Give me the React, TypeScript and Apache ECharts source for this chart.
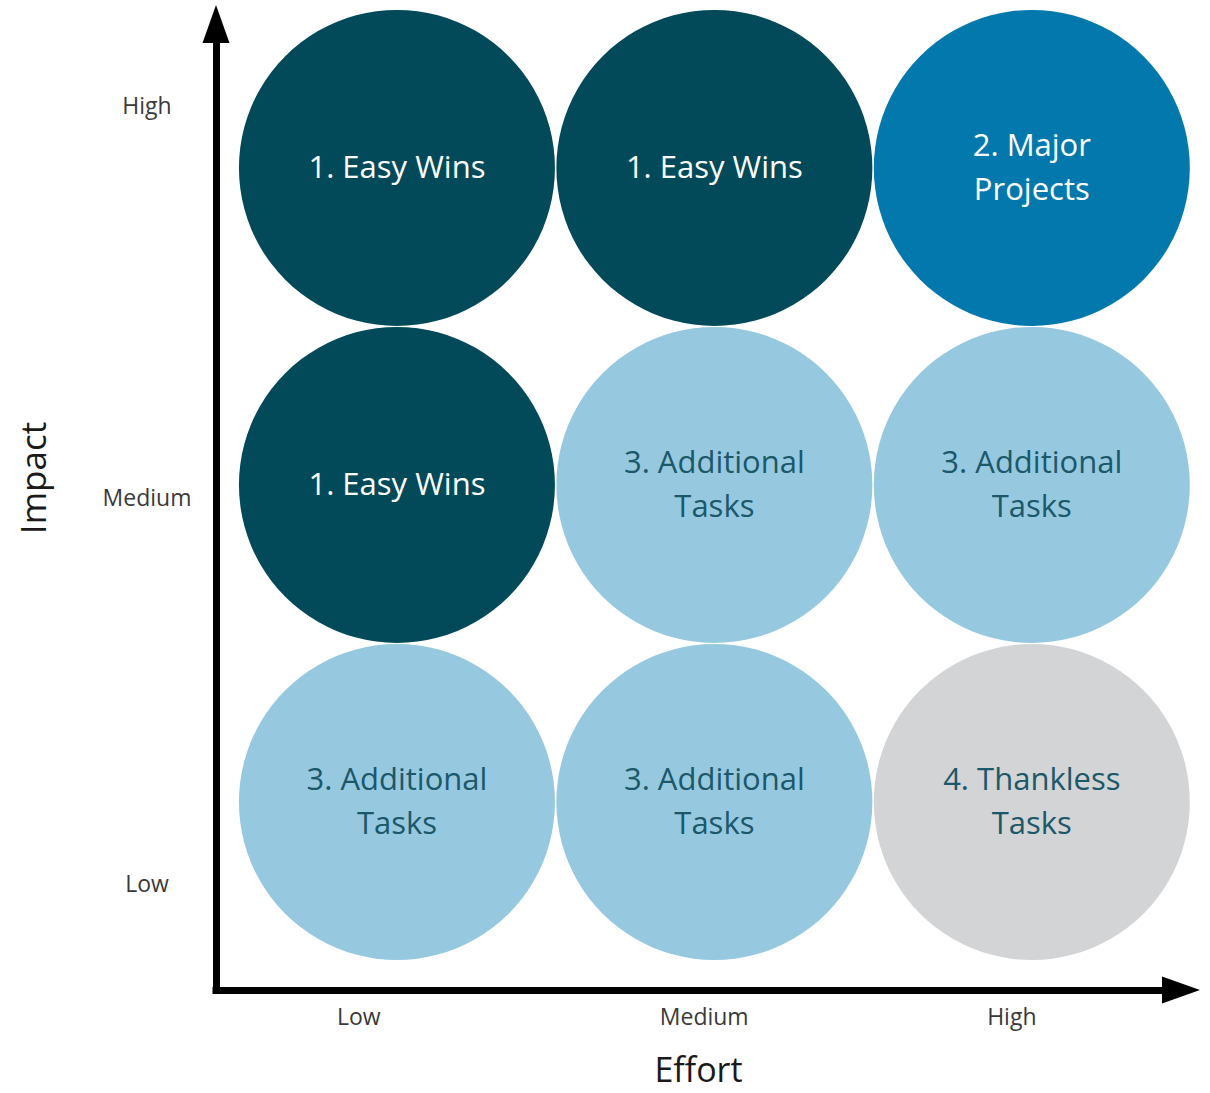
import React, { useEffect, useRef } from "react";
import * as echarts from "echarts";

// Categories
const effortLabels = ["Low", "Medium", "High"];
const impactLabels = ["Low", "Medium", "High"];

// Cells: effort index (1..3), impact index (1..3), quadrant group, text
const cellEffort = [1, 2, 3, 1, 2, 3, 1, 2, 3];
const cellImpact = [3, 3, 3, 2, 2, 2, 1, 1, 1];
const cellGroup = [1, 1, 2, 1, 3, 3, 3, 3, 4];
const groupNames: Record<number, string> = {
  1: "1. Easy Wins",
  2: "2. Major\nProjects",
  3: "3. Additional\nTasks",
  4: "4. Thankless\nTasks",
};

// Layout (not data)
const groupColors: Record<number, string> = { 1: "#024a59", 2: "#0378ad", 3: "#96c9e0", 4: "#d3d4d6" };
const groupText: Record<number, string> = { 1: "#ffffff", 2: "#ffffff", 3: "#1b5869", 4: "#1b5869" };
const xLabelPos = [0.88, 1.968, 2.937];
const yLabelPos = [0.744, 1.962, 3.199];

const FONT = "Open Sans";

function nearestIdx(arr: number[], v: number) {
  let best = 0;
  for (let i = 1; i < arr.length; i++) if (Math.abs(arr[i] - v) < Math.abs(arr[best] - v)) best = i;
  return best;
}

export default function App() {
  const ref = useRef<HTMLDivElement>(null);
  useEffect(() => {
    if (!ref.current) return;
    const chart = echarts.init(ref.current, undefined, { renderer: "svg" });
    const data = cellEffort.map((e, i) => {
      const g = cellGroup[i];
      return {
        value: [e, cellImpact[i]],
        name: groupNames[g],
        itemStyle: { color: groupColors[g], opacity: 1 },
        label: { color: groupText[g] },
      };
    });
    chart.setOption({
      animation: false,
      backgroundColor: "#ffffff",
      grid: { left: 216, right: 29, top: 24, bottom: 103, containLabel: false, outerBoundsMode: "none" },
      xAxis: {
        type: "value",
        min: 0.43,
        max: 3.47,
        name: "Effort",
        nameLocation: "middle",
        nameGap: 64,
        nameTextStyle: { fontFamily: FONT, fontSize: 34, lineHeight: 30, color: "#1a1a1a" },
        axisLine: {
          show: true,
          symbol: ["none", "triangle"],
          symbolSize: [27, 38],
          lineStyle: { color: "#000", width: 7, cap: "square" },
        },
        axisTick: { show: false },
        splitLine: { show: false },
        axisLabel: {
          customValues: xLabelPos,
          formatter: (v: number) => effortLabels[nearestIdx(xLabelPos, v)],
          fontFamily: FONT,
          fontSize: 23,
          color: "#3a3a3a",
          margin: 14,
        },
      },
      yAxis: {
        type: "value",
        min: 0.407,
        max: 3.454,
        name: "Impact",
        nameLocation: "middle",
        nameGap: 166,
        nameRotate: 90,
        nameTextStyle: { fontFamily: FONT, fontSize: 35, color: "#1a1a1a", padding: [0, 0, 0, 58] },
        axisLine: {
          show: true,
          symbol: ["none", "triangle"],
          symbolSize: [27, 38],
          lineStyle: { color: "#000", width: 7, cap: "square" },
        },
        axisTick: { show: false },
        splitLine: { show: false },
        axisLabel: {
          customValues: yLabelPos,
          formatter: (v: number) => impactLabels[nearestIdx(yLabelPos, v)],
          fontFamily: FONT,
          fontSize: 23,
          color: "#3a3a3a",
          align: "center",
          margin: 69,
        },
      },
      series: [
        {
          type: "scatter",
          clip: false,
          symbol: "circle",
          symbolSize: 316,
          data,
          label: {
            show: true,
            position: "inside",
            formatter: (p: any) => p.name,
            fontFamily: FONT,
            fontSize: 31,
            lineHeight: 44,
            align: "center",
            offset: [0, -2],
          },
          emphasis: { disabled: true },
        },
      ],
    });
    return () => chart.dispose();
  }, []);
  return <div ref={ref} style={{ position: "fixed", left: 0, top: 0, width: 1210, height: 1093 }} />;
}
